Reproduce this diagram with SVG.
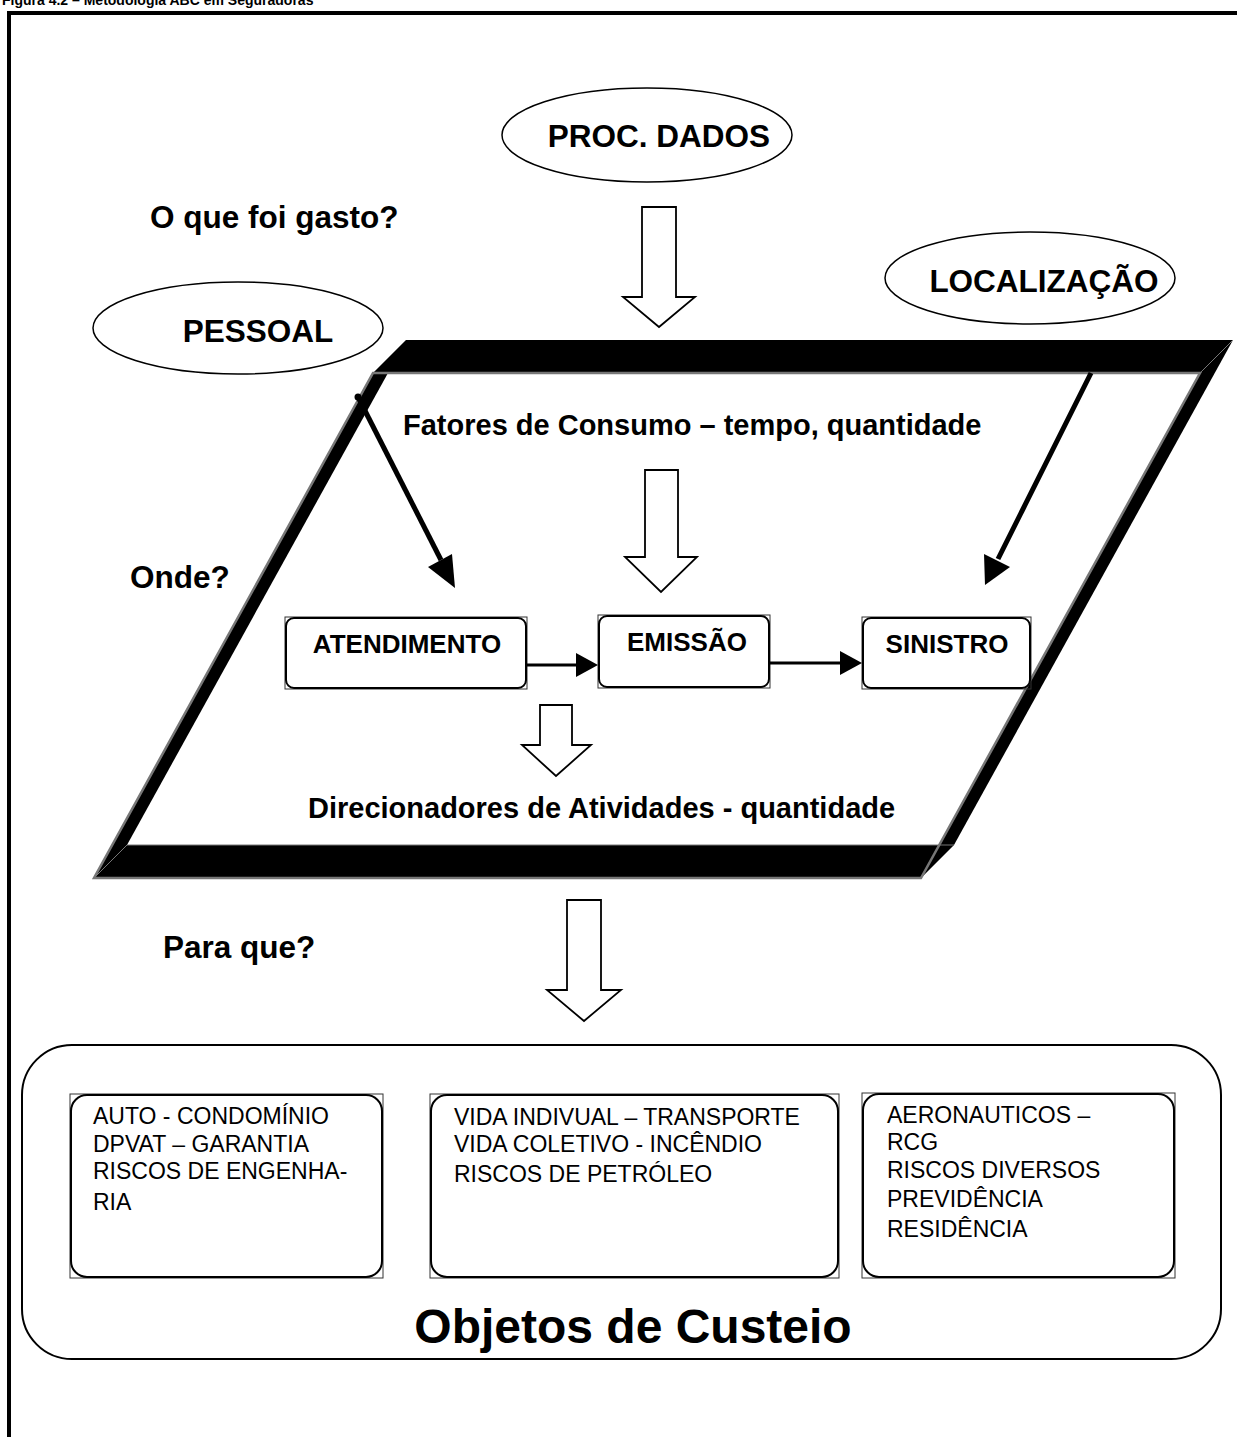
<svg xmlns="http://www.w3.org/2000/svg" width="1237" height="1437" viewBox="0 0 1237 1437">
<defs>
<style>
.lbl{font-family:"Liberation Sans",Arial,sans-serif;font-weight:bold;fill:#000}
.reg{font-family:"Liberation Sans",Arial,sans-serif;fill:#000;font-size:23px}
.ell{fill:#fff;stroke:#000;stroke-width:1.5}
.frm{fill:none;stroke:#333;stroke-width:1}
.rr{fill:#fff;stroke:#000;stroke-width:2}
.hollow{fill:#fff;stroke:#000;stroke-width:1.8;stroke-linejoin:miter}
.conn{stroke:#000;fill:none}
</style>
</defs>
<rect width="1237" height="1437" fill="#fff"/>
<g id="title">
<text class="lbl" x="2" y="5" font-size="14">Figura 4.2 – Metodologia ABC em Seguradoras</text>
<line x1="9" y1="11" x2="9" y2="1437" stroke="#000" stroke-width="4"/>
<line x1="7" y1="13" x2="1237" y2="13" stroke="#000" stroke-width="4"/>
</g>
<g id="parallelogram">
<polygon points="406,340 1233,340 954,845 921,878 94,878 373,373" fill="#000"/>
<polygon points="388,373 1200,373 939,845 127,845" fill="#fff"/>
<polygon points="373,373 1200,373 921,878 94,878" fill="none" stroke="#777" stroke-width="2.5"/>
<line x1="127" y1="845" x2="954" y2="845" stroke="#777" stroke-width="1"/>
<line x1="127" y1="845" x2="94" y2="878" stroke="#777" stroke-width="1"/>
<line x1="954" y1="845" x2="921" y2="878" stroke="#777" stroke-width="1"/>
<line x1="1233" y1="340" x2="1200" y2="373" stroke="#777" stroke-width="1"/>
<line x1="406" y1="340" x2="373" y2="373" stroke="#777" stroke-width="1"/>
</g>
<g id="proc-dados">
<ellipse class="ell" cx="647" cy="135" rx="145" ry="47"/>
<text class="lbl" x="659" y="147" font-size="31.5" text-anchor="middle">PROC. DADOS</text>
</g>
<g id="pessoal">
<ellipse class="ell" cx="238" cy="328" rx="145" ry="46"/>
<text class="lbl" x="258" y="342" font-size="31.5" text-anchor="middle">PESSOAL</text>
</g>
<g id="localizacao">
<ellipse class="ell" cx="1030" cy="278" rx="145" ry="46"/>
<text class="lbl" x="1044" y="292" font-size="31.5" text-anchor="middle">LOCALIZAÇÃO</text>
</g>
<g id="q1"><text class="lbl" x="150" y="228" font-size="31.5">O que foi gasto?</text></g>
<g id="q2"><text class="lbl" x="130" y="588" font-size="31.5">Onde?</text></g>
<g id="q3"><text class="lbl" x="163" y="958" font-size="31.5">Para que?</text></g>
<g id="fatores"><text class="lbl" x="403" y="435" font-size="29">Fatores de Consumo – tempo, quantidade</text></g>
<g id="direcionadores"><text class="lbl" x="308" y="818" font-size="29">Direcionadores de Atividades - quantidade</text></g>
<g id="atendimento">
<rect class="frm" x="285" y="617" width="242" height="72"/>
<rect class="rr" x="286" y="618" width="240" height="70" rx="8"/>
<text class="lbl" x="407" y="653" font-size="26" text-anchor="middle">ATENDIMENTO</text>
</g>
<g id="emissao">
<rect class="frm" x="598" y="615" width="172" height="73"/>
<rect class="rr" x="599" y="616" width="170" height="71" rx="8"/>
<text class="lbl" x="687" y="651" font-size="26" text-anchor="middle">EMISSÃO</text>
</g>
<g id="sinistro">
<rect class="frm" x="862" y="617" width="169" height="72"/>
<rect class="rr" x="863" y="618" width="167" height="70" rx="8"/>
<text class="lbl" x="947" y="653" font-size="26" text-anchor="middle">SINISTRO</text>
</g>
<g id="objetos">
<rect x="22" y="1045" width="1199" height="314" rx="50" fill="#fff" stroke="#000" stroke-width="2"/>
<text class="lbl" x="633" y="1343" font-size="48" text-anchor="middle">Objetos de Custeio</text>
</g>
<g id="box1">
<rect class="frm" x="70" y="1094" width="313" height="184"/>
<rect class="rr" x="71" y="1095" width="311" height="182" rx="16" stroke-width="1.5"/>
<text class="reg" x="93" y="1124">AUTO - CONDOMÍNIO</text>
<text class="reg" x="93" y="1152">DPVAT – GARANTIA</text>
<text class="reg" x="93" y="1179">RISCOS DE ENGENHA-</text>
<text class="reg" x="93" y="1210">RIA</text>
</g>
<g id="box2">
<rect class="frm" x="430" y="1094" width="409" height="184"/>
<rect class="rr" x="431" y="1095" width="407" height="182" rx="16" stroke-width="1.5"/>
<text class="reg" x="454" y="1125">VIDA INDIVUAL – TRANSPORTE</text>
<text class="reg" x="454" y="1152">VIDA COLETIVO - INCÊNDIO</text>
<text class="reg" x="454" y="1182">RISCOS DE PETRÓLEO</text>
</g>
<g id="box3">
<rect class="frm" x="862" y="1093" width="313" height="185"/>
<rect class="rr" x="863" y="1094" width="311" height="183" rx="16" stroke-width="1.5"/>
<text class="reg" x="887" y="1123">AERONAUTICOS –</text>
<text class="reg" x="887" y="1150">RCG</text>
<text class="reg" x="887" y="1178">RISCOS DIVERSOS</text>
<text class="reg" x="887" y="1207">PREVIDÊNCIA</text>
<text class="reg" x="887" y="1237">RESIDÊNCIA</text>
</g>
<g id="connectors">
<polygon class="hollow" points="642,207 676,207 676,297 695,297 659,327 623,297 642,297"/>
<polygon class="hollow" points="645,470 678,470 678,557 697,557 661,592 625,557 645,557"/>
<polygon class="hollow" points="540,705 572,705 572,745 591,745 556,776 522,745 540,745"/>
<polygon class="hollow" points="567,900 601,900 601,990 621,990 584,1021 547,990 567,990"/>
<line class="conn" x1="358" y1="397" x2="441" y2="560" stroke-width="5"/>
<circle cx="358" cy="397" r="3.5" fill="#000"/>
<polygon points="455,588 428,567 452,554" fill="#000"/>
<line class="conn" x1="1091" y1="373" x2="998" y2="559" stroke-width="5"/>
<polygon points="985,585 984,554 1010,567" fill="#000"/>
<line class="conn" x1="527" y1="665" x2="578" y2="665" stroke-width="3"/>
<polygon points="598,665 576,653 576,677" fill="#000"/>
<line class="conn" x1="770" y1="663" x2="842" y2="663" stroke-width="3"/>
<polygon points="862,663 840,651 840,675" fill="#000"/>
</g>
</svg>
